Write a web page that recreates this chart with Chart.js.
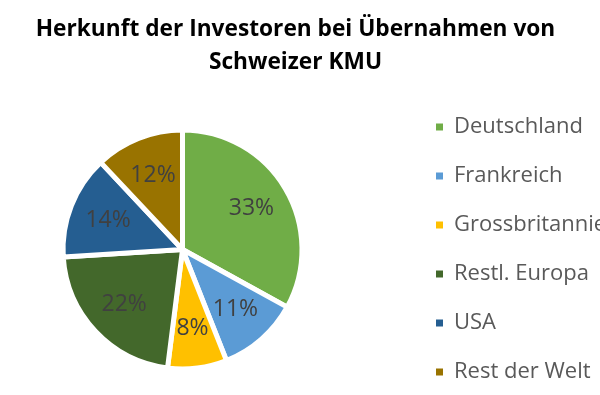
<!DOCTYPE html>
<html><head><meta charset="utf-8">
<script src="https://cdn.jsdelivr.net/npm/chart.js@4/dist/chart.umd.min.js"></script>
<style>
html,body{margin:0;padding:0;overflow:hidden;background:#fff;width:600px;height:395px;}
#wrap{position:absolute;left:-44px;top:0;width:679px;height:414px;}
</style></head><body>
<div id="wrap"><canvas id="c"></canvas></div>
<script>
const titleLines = ['Herkunft der Investoren bei Übernahmen von', 'Schweizer KMU'];
const categories = ['Deutschland', 'Frankreich', 'Grossbritannien', 'Restl. Europa', 'USA', 'Rest der Welt'];
const shares = [33, 11, 8, 22, 14, 12];
const colors = ['#70AD47', '#5B9BD5', '#FFC000', '#43682B', '#255E91', '#997300'];

const FONT = '"Open Sans", "Noto Sans", sans-serif';
const LEGEND_W = 226;

const legendWidthPlugin = {
  id: 'legendWidth',
  beforeInit(chart) {
    const lg = chart.legend;
    if (lg && !lg._patched) {
      const orig = lg.fit;
      lg.fit = function () { orig.call(this); this.width = LEGEND_W; };
      lg._patched = true;
    }
  }
};

const pctLabels = {
  id: 'pctLabels',
  afterDatasetsDraw(chart) {
    const ctx = chart.ctx;
    const meta = chart.getDatasetMeta(0);
    ctx.save();
    ctx.font = '23px ' + FONT;
    ctx.fillStyle = '#404040';
    ctx.textAlign = 'center';
    ctx.textBaseline = 'middle';
    meta.data.forEach((arc, i) => {
      const p = arc.getProps(['x', 'y', 'startAngle', 'endAngle', 'outerRadius'], true);
      const mid = (p.startAngle + p.endAngle) / 2;
      const r = p.outerRadius * 0.67;
      ctx.fillText(shares[i] + '%', p.x + Math.cos(mid) * r, p.y + Math.sin(mid) * r);
    });
    ctx.restore();
  }
};

function draw() {
  const defGen = Chart.overrides.pie.plugins.legend.labels.generateLabels;
  new Chart(document.getElementById('c'), {
    type: 'pie',
    data: {
      labels: categories,
      datasets: [{
        data: shares,
        backgroundColor: colors,
        borderColor: '#ffffff',
        borderWidth: 5,
        radius: 119.5
      }]
    },
    options: {
      responsive: true,
      maintainAspectRatio: false,
      animation: false,
      events: [],
      layout: { padding: 0 },
      plugins: {
        tooltip: { enabled: false },
        title: {
          display: true,
          text: titleLines,
          color: '#000000',
          font: { family: FONT, size: 22.7, weight: 'bold', lineHeight: 33 / 22.7 },
          padding: { top: 13, bottom: 6 }
        },
        legend: {
          position: 'right',
          fullSize: false,
          labels: {
            boxWidth: 7,
            boxHeight: 7,
            padding: 27,
            color: '#595959',
            font: { family: FONT, size: 22 },
            generateLabels(chart) {
              return defGen(chart).map(l => Object.assign(l, { lineWidth: 0, strokeStyle: 'rgba(0,0,0,0)' }));
            }
          }
        }
      }
    },
    plugins: [legendWidthPlugin, pctLabels]
  });
}

if (document.fonts && document.fonts.load) {
  Promise.all([
    document.fonts.load('22px "Open Sans"'),
    document.fonts.load('bold 24px "Open Sans"')
  ]).then(draw, draw);
} else { draw(); }
</script>
</body></html>
